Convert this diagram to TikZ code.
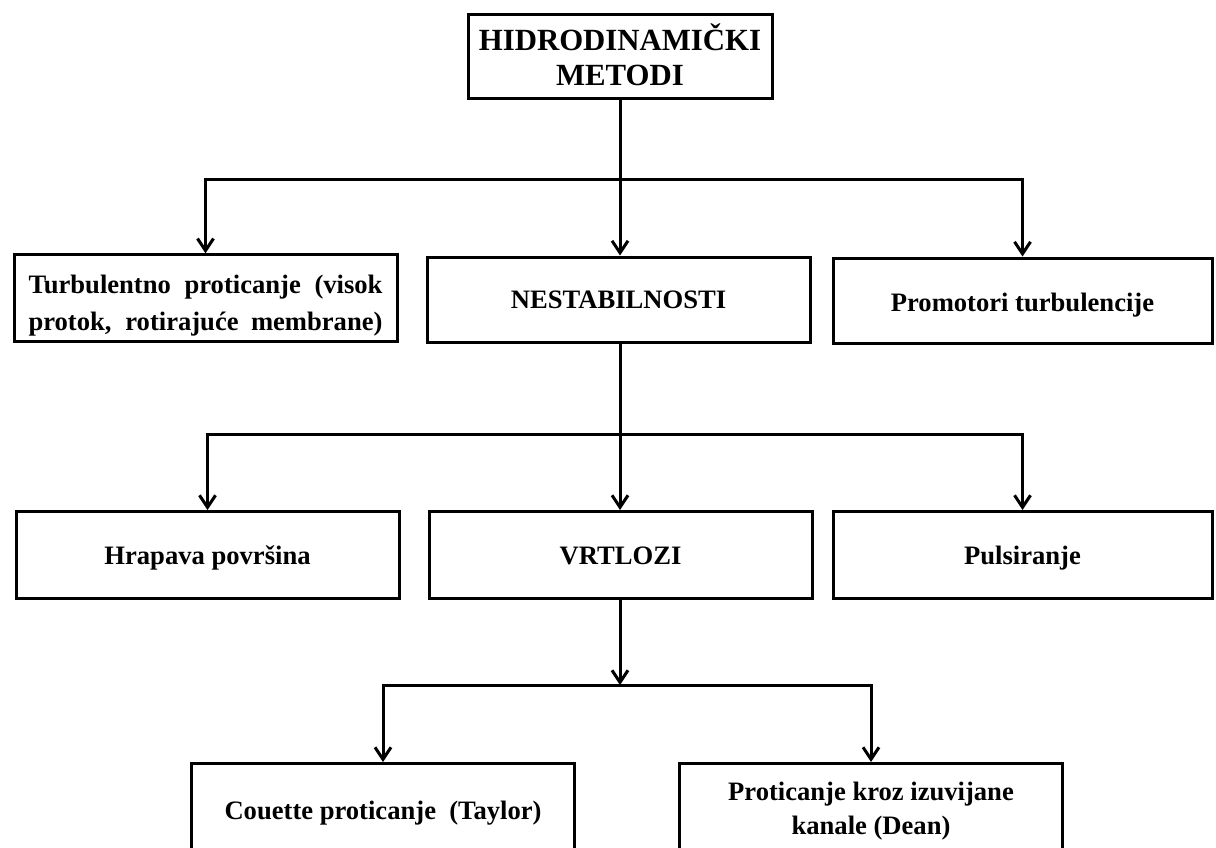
\documentclass[tikz,border=0pt]{standalone}
\usepackage{fontspec}
\setmainfont{Liberation Serif}
\usetikzlibrary{arrows.meta,positioning}

\begin{document}
\begin{tikzpicture}[
  x=0.5pt, y=-0.5pt,
  box/.style={draw, line width=1.5pt, align=center, inner sep=2pt,
    minimum width=191.5pt, minimum height=42.5pt,
    execute at end node=\strut,
    font=\fontsize{13.3}{17}\selectfont\bfseries},
  sink/.style={execute at begin node={\rule{0pt}{#1}}},
  head/.style={box, minimum width=152pt, minimum height=42pt,
    font=\fontsize{15.4}{17.5}\selectfont\bfseries},
  mid/.style={box, minimum height=43.5pt},
  low/.style={box, minimum height=46.5pt},
  link/.style={line width=1.5pt},
  flow/.style={link, -{Straight Barb[length=6pt, width=8pt]}},
]
  \useasboundingbox (0,0) rectangle (1216,847);
  % --- root ---
  \node[head, sink=34.5pt, inner ysep=0pt] (metodi) at (620,56.5) {HIDRODINAMIČKI\\METODI};
  % --- first level ---
  \node[box, sink=37.7pt, inner ysep=0pt, font=\fontsize{13.3}{18.5}\selectfont\bfseries] (turb) at (205.5,298)
    {\makebox[177pt][s]{Turbulentno proticanje (visok}\\
     \makebox[177pt][s]{protok, rotirajuće membrane)}};
  \node[box, sink=14pt] (nestab) at (618.5,299.5) {NESTABILNOSTI};
  \node[box, sink=16pt, minimum width=189.5pt] (promo) at (1022.5,300.5) {Promotori turbulencije};
  % --- second level ---
  \node[mid, sink=15pt] (hrap) at (207.5,555) {Hrapava površina};
  \node[mid, sink=15pt] (vrtl) at (620.5,555) {VRTLOZI};
  \node[mid, sink=15pt, minimum width=189.5pt] (puls) at (1022.5,555) {Pulsiranje};
  % --- third level (cut by the page edge) ---
  \node[low, sink=15pt] (couette) at (383,810) {Couette proticanje\ \ (Taylor)};
  \node[low, sink=30pt] (dean) at (871,810) {Proticanje kroz izuvijane\\kanale (Dean)};
  % --- buses ---
  \coordinate (bus1) at (620,179);
  \coordinate (bus2) at (620,434);
  \coordinate (bus3) at (620,685);
  % --- root to first level ---
  \draw[link] (metodi.south) -- (bus1);
  \draw[flow] (bus1) -| (turb.north);
  \draw[flow] (bus1) -- (nestab.north -| bus1);
  \draw[flow] (bus1) -| (promo.north);
  % --- nestabilnosti to second level ---
  \draw[link] (nestab.south -| bus2) -- (bus2);
  \draw[flow] (bus2) -| (hrap.north);
  \draw[flow] (bus2) -- (vrtl.north -| bus2);
  \draw[flow] (bus2) -| (puls.north);
  % --- vrtlozi to third level ---
  \draw[flow] (vrtl.south -| bus3) -- (bus3);
  \draw[flow] (bus3) -| (couette.north);
  \draw[flow] (bus3) -| (dean.north);
\end{tikzpicture}
\end{document}
